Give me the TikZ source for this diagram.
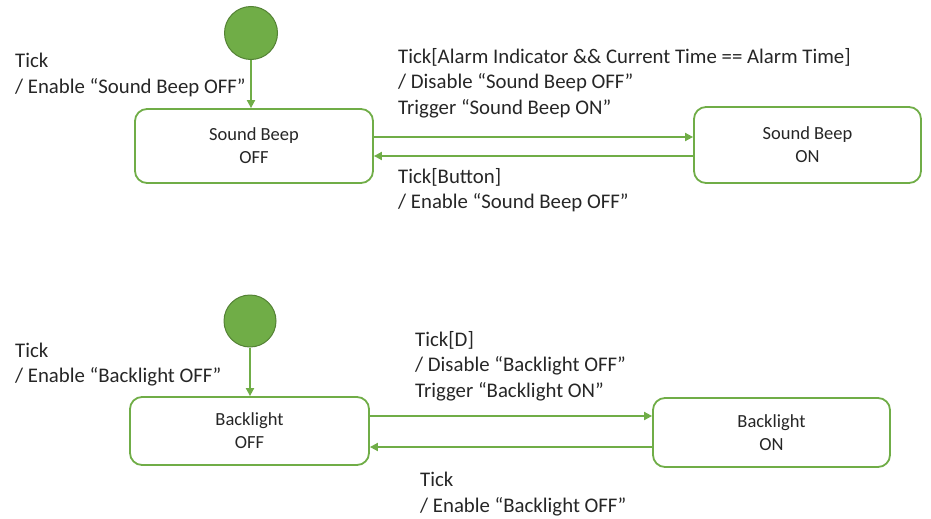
\documentclass[tikz,border=0pt]{standalone}
\usepackage{fontspec}
\setmainfont{Carlito}
\usetikzlibrary{arrows.meta}
\definecolor{stategreen}{HTML}{70AD47}
\definecolor{initfill}{HTML}{70AD47}
\definecolor{initedge}{HTML}{548235}
\definecolor{txt}{HTML}{262626}
\tikzset{
  x=1pt, y=-1pt,
  statebox/.style={draw=stategreen, line width=1.8pt, rounded corners=12pt,
    fill=white, align=center, text=txt, inner sep=0pt,
    font=\fontsize{18.5}{23}\selectfont},
  initstate/.style={circle, draw=initedge, line width=1pt, fill=initfill,
    minimum size=53pt, inner sep=0pt},
  trans/.style={draw=stategreen, line width=1.8pt,
    -{Triangle[length=8pt,width=8pt]}},
  lbl/.style={anchor=west, align=left, text=txt, inner sep=0pt,
    font=\fontsize{20.8}{25.5}\selectfont},
}
\begin{document}
\begin{tikzpicture}
\useasboundingbox (0,0) rectangle (931,519);

% ---- alarm beep machine ----
\node[initstate] (i1) at (251,33) {};
\node[statebox, minimum width=238pt, minimum height=74pt] (beepoff) at (254,146) {Sound Beep\\OFF};
\node[statebox, minimum width=227pt, minimum height=76pt] (beepon) at (807.5,145) {Sound Beep\\ON};

\draw[trans] (i1.south) -- (i1.south |- beepoff.north);
\draw[trans] (beepoff.east |- 0,137) -- (beepon.west |- 0,137);
\draw[trans] (beepon.west |- 0,156) -- (beepoff.east |- 0,156);

\node[lbl] (l1) at (15,75) {Tick\\/ Enable “Sound Beep OFF”};
\node[lbl] (l2) at (398,83) {Tick[Alarm Indicator \&\& Current Time == Alarm Time]\\/ Disable “Sound Beep OFF”\\Trigger “Sound Beep ON”};
\node[lbl] (l3) at (398,190) {Tick[Button]\\/ Enable “Sound Beep OFF”};

% ---- backlight machine ----
\node[initstate, minimum size=52pt] (i2) at (250,321) {};
\node[statebox, minimum width=239pt, minimum height=68pt] (lightoff) at (249.5,431) {Backlight\\OFF};
\node[statebox, minimum width=237pt, minimum height=69pt] (lighton) at (771.5,432.5) {Backlight\\ON};

\draw[trans] (i2.south) -- (i2.south |- lightoff.north);
\draw[trans] (lightoff.east |- 0,416) -- (lighton.west |- 0,416);
\draw[trans] (lighton.west |- 0,447) -- (lightoff.east |- 0,447);

\node[lbl] (l4) at (15,364.5) {Tick\\/ Enable “Backlight OFF”};
\node[lbl] (l5) at (415,366) {Tick[D]\\/ Disable “Backlight OFF”\\Trigger “Backlight ON”};
\node[lbl] (l6) at (420,494) {Tick\\/ Enable “Backlight OFF”};
\end{tikzpicture}
\end{document}
